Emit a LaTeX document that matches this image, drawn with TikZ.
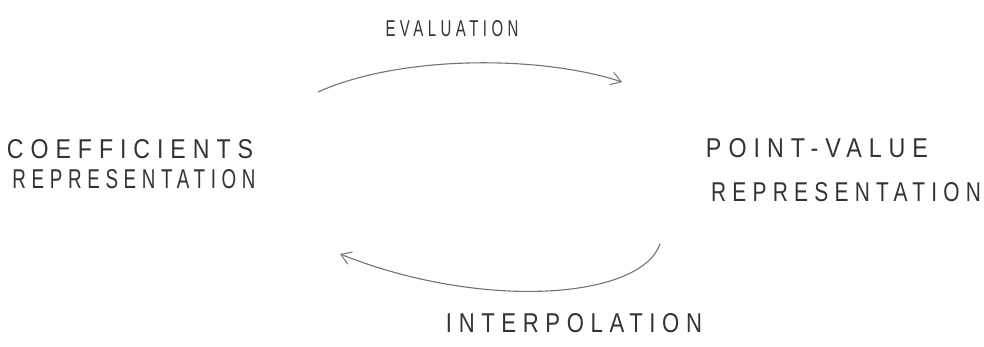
\documentclass[tikz,border=0pt]{standalone}
\usepackage{fontspec}
\usepackage{graphicx}
\setmainfont{Liberation Sans}
\newfontfamily\hand[LetterSpace=30]{Liberation Sans}
\usetikzlibrary{arrows.meta}
\newcommand{\handtext}[3]{\resizebox{#1pt}{#2pt}{\hand #3}}
\tikzset{
  lbl/.style={text=black!80, inner sep=0pt, anchor=center},
  curve/.style={draw=black!55, line width=1.1pt, line cap=round,
    -{Straight Barb[length=10pt,width=13pt,line width=1pt]}}
}
\begin{document}
\begin{tikzpicture}[x=1pt,y=-1pt]
\useasboundingbox (0,0) rectangle (984,346);
\node[lbl] (eval) at (452,29) {\handtext{133}{16}{EVALUATION}};
\node[lbl] (coef) at (130,149) {\handtext{246}{19}{COEFFICIENTS}};
\node[lbl] (crep) at (134,179) {\handtext{243}{19}{REPRESENTATION}};
\node[lbl] (pv) at (817,148) {\handtext{222}{19}{POINT-VALUE}};
\node[lbl] (prep) at (846,192) {\handtext{270}{19}{REPRESENTATION}};
\node[lbl] (interp) at (574,323) {\handtext{256}{19}{INTERPOLATION}};
\coordinate (t1) at (318,92);
\coordinate (t2) at (622,82);
\coordinate (b1) at (660,244);
\coordinate (b2) at (340,254);
\draw[curve] (t1) .. controls (400,55) and (540,55) .. (t2);
\draw[curve] (b1) .. controls (640,300) and (480,310) .. (b2);
\end{tikzpicture}
\end{document}
